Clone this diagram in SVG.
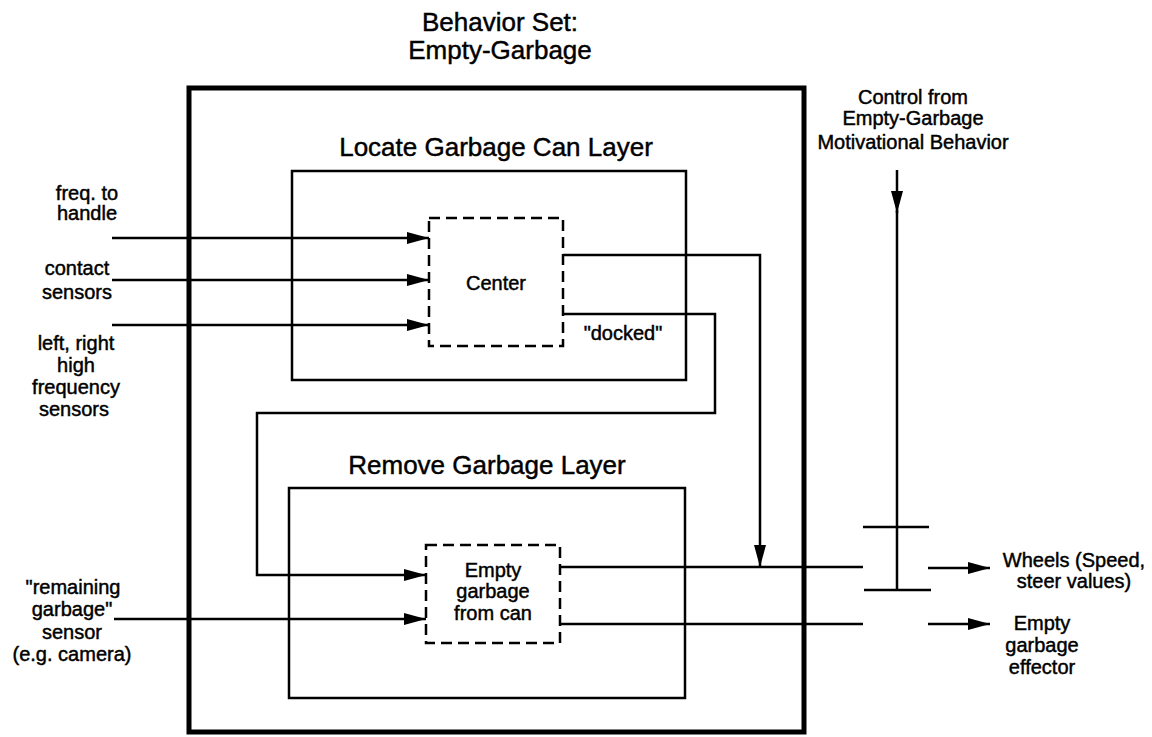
<svg xmlns="http://www.w3.org/2000/svg" width="1152" height="737" viewBox="0 0 1152 737">
<style>
text{font-family:"Liberation Sans",Arial,sans-serif;fill:#000;text-anchor:middle;stroke:#000;stroke-width:0.45}
.big{font-size:26px}
.sm{font-size:20px}
.ln{fill:none;stroke:#000;stroke-width:2.5}
.dash{fill:none;stroke:#000;stroke-width:2.5;stroke-dasharray:11,6}
</style>
<defs>
<marker id="ah" viewBox="0 0 22 12" refX="22" refY="6" markerWidth="22" markerHeight="12" markerUnits="userSpaceOnUse" orient="auto">
<path d="M0,0 L22,6 L0,12 Z" fill="#000"/>
</marker>
</defs>
<rect width="1152" height="737" fill="#fff"/>
<g id="title">
<text class="big" x="500" y="31">Behavior Set:</text>
<text class="big" x="500" y="59">Empty-Garbage</text>
</g>
<g id="behavior-set">
<rect x="189" y="88" width="615" height="644" fill="none" stroke="#000" stroke-width="5"/>
</g>
<g id="locate-layer">
<text class="big" x="496" y="156">Locate Garbage Can Layer</text>
<rect class="ln" x="292" y="171" width="394" height="209"/>
</g>
<g id="center">
<rect class="dash" x="429" y="218" width="134" height="128"/>
<text class="sm" x="496" y="290">Center</text>
</g>
<g id="remove-layer">
<text class="big" x="487" y="474">Remove Garbage Layer</text>
<rect class="ln" x="289" y="488" width="396" height="210"/>
</g>
<g id="empty-garbage">
<rect class="dash" x="426" y="545" width="134" height="98"/>
<text class="sm" x="493" y="577">Empty</text>
<text class="sm" x="493" y="598">garbage</text>
<text class="sm" x="493" y="620">from can</text>
</g>
<g id="inputs">
<text class="sm" x="87" y="200">freq. to</text>
<text class="sm" x="87" y="220">handle</text>
<text class="sm" x="77" y="275">contact</text>
<text class="sm" x="77" y="299">sensors</text>
<text class="sm" x="76" y="350">left, right</text>
<text class="sm" x="76" y="372">high</text>
<text class="sm" x="76" y="394">frequency</text>
<text class="sm" x="74" y="416">sensors</text>
<text class="sm" x="73" y="594">"remaining</text>
<text class="sm" x="72" y="616">garbage"</text>
<text class="sm" x="72" y="639">sensor</text>
<text class="sm" x="72" y="661">(e.g. camera)</text>
</g>
<g id="control">
<text class="sm" x="913" y="104">Control from</text>
<text class="sm" x="913" y="125">Empty-Garbage</text>
<text class="sm" x="913" y="149">Motivational Behavior</text>
</g>
<g id="suppressor">
<line class="ln" x1="863" y1="527" x2="929" y2="527" stroke-width="3.5"/>
<line class="ln" x1="864" y1="590" x2="931" y2="590" stroke-width="3.5"/>
</g>
<g id="outputs">
<text class="sm" x="1074" y="567">Wheels (Speed,</text>
<text class="sm" x="1074" y="588">steer values)</text>
<text class="sm" x="1042" y="630">Empty</text>
<text class="sm" x="1042" y="652">garbage</text>
<text class="sm" x="1042" y="674">effector</text>
</g>
<g id="connectors">
<line class="ln" x1="112" y1="238" x2="429" y2="238" marker-end="url(#ah)"/>
<line class="ln" x1="112" y1="280" x2="429" y2="280" marker-end="url(#ah)"/>
<line class="ln" x1="112" y1="325" x2="429" y2="325" marker-end="url(#ah)"/>
<line class="ln" x1="114" y1="619" x2="426" y2="619" marker-end="url(#ah)"/>
<path class="ln" d="M563,255 H760 V567" marker-end="url(#ah)"/>
<path class="ln" d="M563,314 H715 V413 H257 V575 H426" marker-end="url(#ah)"/>
<text class="sm" x="623" y="340">"docked"</text>
<line class="ln" x1="560" y1="567" x2="863" y2="567"/>
<line class="ln" x1="560" y1="624" x2="863" y2="624"/>
<line class="ln" x1="928" y1="568" x2="990" y2="568" marker-end="url(#ah)"/>
<line class="ln" x1="928" y1="624" x2="990" y2="624" marker-end="url(#ah)"/>
<line class="ln" x1="897" y1="170" x2="897" y2="213" marker-end="url(#ah)" stroke-width="3"/>
<line class="ln" x1="897" y1="210" x2="897" y2="590" stroke-width="3"/>
</g>
</svg>
